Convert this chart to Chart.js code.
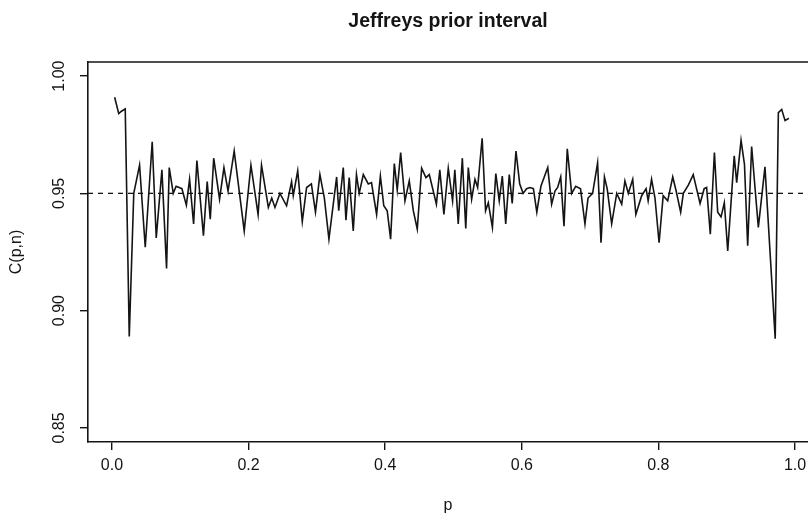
<!DOCTYPE html>
<html>
<head>
<meta charset="utf-8">
<script src="https://cdn.jsdelivr.net/npm/chart.js@4/dist/chart.umd.min.js"></script>
<style>
  html, body { margin: 0; padding: 0; background: #ffffff; }
  #c { display: block; }
</style>
</head>
<body>
<canvas id="c" width="808" height="523"></canvas>
<script>
// ---- data ----
const pValues = [
  0.004, 0.010, 0.014, 0.0195, 0.0254, 0.032, 0.0405, 0.0488, 0.059, 0.0649,
  0.0732, 0.080, 0.0839, 0.0898, 0.094, 0.1025, 0.109, 0.1137, 0.1196, 0.1244,
  0.134, 0.1395, 0.144, 0.149, 0.1576, 0.164, 0.170, 0.179, 0.1937, 0.2035,
  0.214, 0.219, 0.229, 0.234, 0.2387, 0.246, 0.2557, 0.263, 0.2655, 0.272,
  0.2787, 0.285, 0.292, 0.298, 0.3045, 0.311, 0.3177, 0.329, 0.332, 0.3387,
  0.3426, 0.3474, 0.3533, 0.358, 0.362, 0.368, 0.3753, 0.380, 0.3875, 0.393,
  0.398, 0.403, 0.408, 0.4134, 0.4177, 0.4227, 0.429, 0.4353, 0.4412, 0.447,
  0.4534, 0.4597, 0.4646, 0.475, 0.480, 0.486, 0.4924, 0.4987, 0.502, 0.507,
  0.513, 0.518, 0.5217, 0.5266, 0.5315, 0.5354, 0.542, 0.547, 0.551, 0.557,
  0.562, 0.567, 0.5715, 0.5765, 0.5817, 0.586, 0.5915, 0.597, 0.602, 0.607,
  0.612, 0.617, 0.622, 0.628, 0.638, 0.6437, 0.6486, 0.6525, 0.657, 0.6618,
  0.6666, 0.673, 0.679, 0.686, 0.6925, 0.697, 0.7037, 0.711, 0.716, 0.721,
  0.725, 0.7316, 0.739, 0.7463, 0.751, 0.756, 0.7624, 0.767, 0.7755, 0.782,
  0.785, 0.790, 0.795, 0.801, 0.807, 0.8136, 0.821, 0.826, 0.8326, 0.8365,
  0.844, 0.851, 0.861, 0.867, 0.8706, 0.876, 0.882, 0.8868, 0.8917, 0.8965,
  0.9015, 0.911, 0.9146, 0.921, 0.926, 0.9307, 0.9365, 0.9414, 0.9463, 0.956,
  0.971, 0.9756, 0.9805, 0.9854, 0.991
];
const coverage = [
  0.991, 0.984, 0.985, 0.986, 0.889, 0.950, 0.962, 0.927, 0.972, 0.931,
  0.960, 0.918, 0.961, 0.950, 0.953, 0.952, 0.945, 0.956, 0.937, 0.964,
  0.932, 0.955, 0.939, 0.965, 0.9475, 0.961, 0.951, 0.968, 0.934, 0.962,
  0.941, 0.962, 0.944, 0.948, 0.944, 0.950, 0.9447, 0.955, 0.949, 0.9596,
  0.938, 0.9525, 0.954, 0.942, 0.958, 0.948, 0.9305, 0.957, 0.9426, 0.961,
  0.9386, 0.9567, 0.934, 0.958, 0.950, 0.958, 0.954, 0.9546, 0.941, 0.9574,
  0.9447, 0.9426, 0.9305, 0.9627, 0.9514, 0.9674, 0.9468, 0.9553, 0.9426, 0.9348,
  0.9607, 0.9567, 0.958, 0.9454, 0.960, 0.941, 0.9607, 0.9468, 0.960, 0.937,
  0.965, 0.935, 0.961, 0.9475, 0.956, 0.9525, 0.9735, 0.9426, 0.946, 0.9355,
  0.9584, 0.9468, 0.9574, 0.937, 0.958, 0.9457, 0.968, 0.954, 0.950, 0.952,
  0.9525, 0.952, 0.942, 0.953, 0.961, 0.9454, 0.951, 0.9525, 0.957, 0.936,
  0.969, 0.950, 0.953, 0.952, 0.937, 0.948, 0.950, 0.963, 0.929, 0.957,
  0.952, 0.937, 0.950, 0.9454, 0.9553, 0.950, 0.956, 0.941, 0.949, 0.952,
  0.9468, 0.956, 0.948, 0.929, 0.949, 0.9468, 0.957, 0.951, 0.942, 0.950,
  0.9536, 0.958, 0.9457, 0.952, 0.9525, 0.9326, 0.9674, 0.942, 0.940, 0.946,
  0.9255, 0.966, 0.9546, 0.9726, 0.9624, 0.9277, 0.970, 0.9525, 0.9355, 0.9613,
  0.888, 0.9844, 0.9858, 0.981, 0.982
];
const nominalLevel = 0.95;
const xTickValues = [0.0, 0.2, 0.4, 0.6, 0.8, 1.0];
const yTickValues = [0.85, 0.90, 0.95, 1.00];
const xRange = [-0.035, 1.019];
const yRange = [0.844, 1.006];
const titleText = 'Jeffreys prior interval';
const xLabel = 'p';
const yLabel = 'C(p,n)';

// ---- build chart ----
const curve = pValues.map((p, i) => ({ x: p, y: coverage[i] }));
const refLine = [{ x: xRange[0], y: nominalLevel }, { x: xRange[1], y: nominalLevel }];

const INK = '#141414';
const FONT = '"Liberation Sans", Arial, Helvetica, sans-serif';

const framePlugin = {
  id: 'frame',
  beforeDraw(chart) {
    const ctx = chart.ctx;
    ctx.save();
    ctx.fillStyle = '#ffffff';
    ctx.fillRect(0, 0, chart.width, chart.height);
    ctx.restore();
  },
  afterDraw(chart) {
    const { ctx, chartArea } = chart;
    ctx.save();
    ctx.strokeStyle = INK;
    ctx.lineWidth = 1.6;
    ctx.beginPath();
    ctx.moveTo(chartArea.left, chartArea.top);
    ctx.lineTo(chartArea.right, chartArea.top);
    ctx.stroke();
    ctx.restore();
  }
};

new Chart(document.getElementById('c'), {
  type: 'line',
  data: {
    datasets: [
      {
        data: curve,
        borderColor: INK,
        borderWidth: 1.6,
        pointRadius: 0,
        tension: 0,
        fill: false
      },
      {
        data: refLine,
        borderColor: INK,
        borderWidth: 1.3,
        borderDash: [5, 5],
        pointRadius: 0,
        tension: 0,
        fill: false
      }
    ]
  },
  options: {
    responsive: false,
    animation: false,
    devicePixelRatio: 1,
    layout: { padding: 0 },
    plugins: {
      legend: { display: false },
      tooltip: { enabled: false },
      title: {
        display: true,
        text: titleText,
        fullSize: false,
        color: INK,
        font: { family: FONT, size: 19.5, weight: 'bold' },
        padding: { top: 10, bottom: 28.6 }
      }
    },
    scales: {
      x: {
        type: 'linear',
        min: xRange[0],
        max: xRange[1],
        afterBuildTicks: s => { s.ticks = xTickValues.map(v => ({ value: v })); },
        afterFit: s => { s.height = 81; s.paddingLeft = 0; s.paddingRight = 0; },
        ticks: {
          color: INK,
          font: { family: FONT, size: 16 },
          padding: 6,
          maxRotation: 0,
          autoSkip: false,
          callback: v => Number(v).toFixed(1)
        },
        grid: { display: true, drawOnChartArea: false, drawTicks: true, tickLength: 8, color: INK, lineWidth: 1.4 },
        border: { display: true, color: INK, width: 1.6 },
        title: {
          display: true,
          text: xLabel,
          color: INK,
          font: { family: FONT, size: 16 },
          padding: { top: 0, bottom: 8 }
        }
      },
      y: {
        type: 'linear',
        min: yRange[0],
        max: yRange[1],
        afterBuildTicks: s => { s.ticks = yTickValues.map(v => ({ value: v })); },
        afterFit: s => { s.width = 88; },
        ticks: {
          color: INK,
          font: { family: FONT, size: 16 },
          padding: 5,
          minRotation: 90,
          maxRotation: 90,
          crossAlign: 'center',
          autoSkip: false,
          callback: v => Number(v).toFixed(2)
        },
        grid: { display: true, drawOnChartArea: false, drawTicks: true, tickLength: 8, color: INK, lineWidth: 1.4 },
        border: { display: true, color: INK, width: 1.6 },
        title: {
          display: true,
          text: yLabel,
          color: INK,
          font: { family: FONT, size: 16 },
          padding: { top: 7, bottom: 0 }
        }
      }
    }
  },
  plugins: [framePlugin]
});
</script>
</body>
</html>
